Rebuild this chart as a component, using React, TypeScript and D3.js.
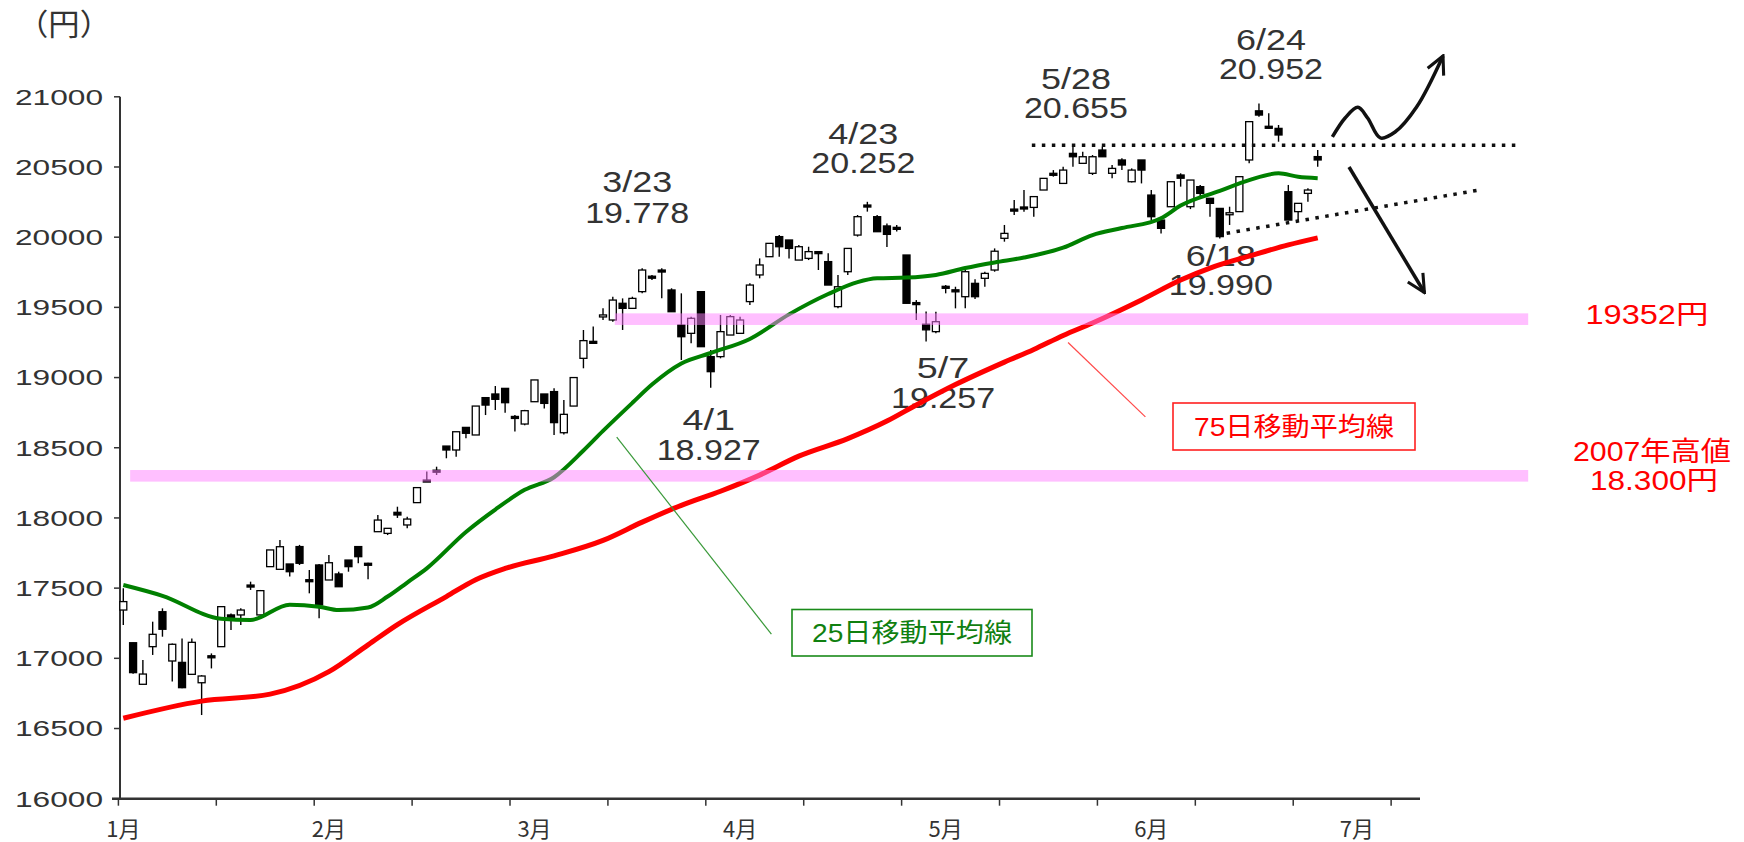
import React from "react";
import * as d3 from "d3";

// 日経平均 日足 (2015/1/5 - 7/2)
const dates = [
  "1/5","1/6","1/7","1/8","1/9","1/13","1/14","1/15","1/16","1/19","1/20","1/21","1/22","1/23","1/26","1/27","1/28","1/29","1/30",
  "2/2","2/3","2/4","2/5","2/6","2/9","2/10","2/12","2/13","2/16","2/17","2/18","2/19","2/20","2/23","2/24","2/25","2/26","2/27",
  "3/2","3/3","3/4","3/5","3/6","3/9","3/10","3/11","3/12","3/13","3/16","3/17","3/18","3/19","3/20","3/23","3/24","3/25","3/26","3/27","3/30","3/31",
  "4/1","4/2","4/3","4/6","4/7","4/8","4/9","4/10","4/13","4/14","4/15","4/16","4/17","4/20","4/21","4/22","4/23","4/24","4/27","4/28","4/30",
  "5/1","5/7","5/8","5/11","5/12","5/13","5/14","5/15","5/18","5/19","5/20","5/21","5/22","5/25","5/26","5/27","5/28","5/29",
  "6/1","6/2","6/3","6/4","6/5","6/8","6/9","6/10","6/11","6/12","6/15","6/16","6/17","6/18","6/19","6/22","6/23","6/24","6/25","6/26","6/29","6/30",
  "7/1","7/2",
];

const opens = [
  17344,17111,16815,17083,17332,16981,16971,16886,16826,17018,17083,17309,17309,17522,17309,17653,17634,17672,17796,
  17560,17665,17558,17601,17700,17796,17677,17902,17890,18040,17950,18109,18270,18340,18512,18484,18645,18591,18857,
  18883,18923,18723,18669,18828,18883,18900,18607,18797,19137,19258,19440,19410,19529,19493,19612,19722,19766,19624,19374,19315,19612,
  19149,19149,19303,19315,19541,19731,19861,20004,19980,19837,19849,19897,19826,19505,19754,20015,20229,20146,20080,20070,19873,
  19534,19380,19327,19650,19625,19576,19671,19707,19766,19992,20200,20215,20212,20336,20455,20383,20597,20526,
  20455,20621,20455,20550,20395,20550,20300,20122,20217,20443,20217,20360,20277,20205,20170,20182,20550,20900,20790,20775,20324,20182,
  20312,20574,
];
const highs = [
  17499,17111,16988,17261,17356,17105,17142,17142,16880,17035,17373,17320,17356,17546,17487,17772,17842,17672,17808,
  17629,17672,17736,17617,17700,17796,17680,18021,17926,18080,18009,18216,18330,18365,18512,18614,18645,18797,18857,
  18940,18923,18733,18770,18983,18883,18923,18840,19000,19339,19363,19493,19576,19564,19576,19778,19730,19778,19636,19600,19434,19612,
  19196,19446,19446,19434,19671,19849,19956,20015,19980,19944,19932,19897,19885,19731,19920,20158,20252,20158,20098,20087,19873,
  19552,19470,19469,19659,19647,19790,19700,19754,19920,20087,20265,20336,20289,20419,20478,20502,20655,20609,
  20585,20645,20514,20562,20490,20550,20336,20146,20395,20455,20407,20372,20277,20205,20217,20431,20823,20952,20882,20799,20372,20241,
  20348,20621,
];
const lows = [
  17237,16890,16815,17024,17154,16834,16786,16886,16596,16928,17080,17202,17237,17487,17305,17653,17634,17582,17665,
  17463,17285,17558,17510,17617,17677,17563,17902,17878,18000,17926,18109,18256,18306,18425,18436,18567,18591,18733,
  18769,18750,18615,18660,18828,18780,18590,18595,18797,19066,19244,19410,19398,19339,19493,19600,19695,19565,19469,19125,19244,19220,
  18927,19137,19303,19315,19517,19707,19861,19861,19849,19837,19837,19766,19659,19493,19730,20004,20182,20039,19930,20040,19529,
  19410,19257,19315,19600,19493,19493,19560,19647,19754,19968,20158,20182,20146,20336,20431,20383,20502,20526,
  20443,20573,20419,20478,20390,20383,20122,20027,20217,20360,20200,20289,20146,19990,20087,20182,20526,20858,20775,20680,20122,20122,
  20253,20502,
];
const closes = [
  17404,16898,16888,17171,17207,17100,16791,17114,16874,17015,17368,17292,17344,17518,17482,17772,17795,17617,17677,
  17558,17380,17681,17510,17653,17724,17675,17985,17926,18021,17992,18216,18256,18335,18484,18614,18603,18797,18804,
  18845,18821,18719,18764,18983,18816,18679,18738,19000,19263,19254,19446,19552,19493,19564,19766,19716,19760,19469,19291,19422,19220,
  19042,19327,19434,19410,19659,19802,19956,19932,19920,19932,19897,19890,19659,19647,19920,20146,20225,20039,20020,20058,19529,
  19532,19340,19398,19647,19623,19754,19576,19742,19900,20027,20196,20212,20289,20419,20452,20478,20573,20573,
  20573,20573,20490,20514,20478,20478,20146,20063,20395,20420,20407,20312,20241,20004,20174,20431,20823,20870,20787,20728,20122,20241,
  20336,20550,
];

// 移動平均線 [営業日番号, 値]
const ma25 = [
  [0,17522],[4,17445],[10,17282],[13,17273],[17,17382],[20,17368],[22,17344],[25,17362],[27,17440],[29,17540],[31,17641],
  [35,17900],[38,18060],[41,18200],[44,18290],[47,18480],[49,18620],[52,18820],[54,18950],[57,19100],[60,19175],[64,19275],
  [68,19450],[72,19595],[75,19680],[77,19707],[80,19712],[83,19731],[86,19780],[89,19820],[92,19855],[96,19925],[99,20015],
  [102,20065],[106,20135],[108,20225],[112,20330],[115,20407],[118,20455],[120,20430],[122,20420],
];
const ma75 = [
  [0,16573],[8,16695],[15,16745],[21,16905],[25,17096],[28,17240],[33,17440],[36,17560],[39,17640],[44,17730],[49,17840],
  [53,17970],[57,18090],[61,18190],[65,18305],[69,18440],[74,18565],[78,18690],[81,18805],[85,18950],[90,19110],[93,19200],
  [96,19300],[99,19389],[104,19553],[108,19695],[111,19780],[115,19865],[119,19945],[122,19995],
];

const yTicks = [16000, 16500, 17000, 17500, 18000, 18500, 19000, 19500, 20000, 20500, 21000];
const monthLabels = ["1月", "2月", "3月", "4月", "5月", "6月", "7月"];
const monthLabelEvery = 21;
const tickEvery = 10;
const tickCount = 14;

const noteDates = ["3/23", "4/23", "5/28", "6/24", "4/1", "5/7", "6/18"];
const noteValues = [19778, 20252, 20655, 20952, 18927, 19257, 19990];
const noteTexts = ["19.778", "20.252", "20.655", "20.952", "18.927", "19.257", "19.990"];

const levelValues = [19416, 18300];
const levelLabels = [["19352円"], ["2007年高値", "18.300円"]];

// layout
const W = 1744;
const H = 842;
const noteOffsets = [
  [-5, -87, -56], [-4, -68, -39], [3, -67, -38], [12, -63.5, -34.5],
  [-2, 31.5, 61.5], [17, 26.5, 56.5], [1, 17, 46],
];
const levelFrom = [50.2, 0.7];
const levelTo = 143.5;
const levelLabelPos = [[[1647, 314, 123]], [[1652, 451, 158], [1654, 480, 128]]];

const NUM_FONT = "'Liberation Sans', 'Noto Sans CJK JP', sans-serif";
const JP_FONT = "'Noto Sans CJK JP', 'Liberation Sans', sans-serif";

export default function App() {
  const x = d3.scaleLinear().domain([0, 122]).range([123.3, 1317.7]);
  const y = d3.scaleLinear().domain([16000, 21000]).range([798.7, 96.8]);
  const idx = (d: string) => dates.indexOf(d);

  const line = d3
    .line<number[]>()
    .x((d) => x(d[0]))
    .y((d) => y(d[1]))
    .curve(d3.curveMonotoneX);

  const xAxisY = y(16000);
  const bodyW = 7;

  const upArrow = [
    [123.5, 20714], [124.8, 20849], [126.1, 20925], [127.1, 20849], [128.4, 20707],
    [129.9, 20749], [132.1, 20927], [134.8, 21291],
  ];
  const downArrow = [[125.2, 20500], [132.9, 19606]];
  const arrowLine = d3
    .line<number[]>()
    .x((d) => x(d[0]))
    .y((d) => y(d[1]))
    .curve(d3.curveCatmullRom);

  return (
    <svg
      width={W}
      height={H}
      style={{ position: "absolute", left: 0, top: 0, display: "block", background: "#fff" }}
    >
      <defs>
        <marker id="arrowV" viewBox="0 0 10 10" refX="9" refY="5" markerWidth="22" markerHeight="22"
          markerUnits="userSpaceOnUse" orient="auto">
          <path d="M1,1 L9,5 L1,9" fill="none" stroke="#111" strokeWidth="1.4" />
        </marker>
      </defs>

      {/* unit */}
      <text x={64} y={24} dy="0.36em" textAnchor="middle" textLength={94} lengthAdjust="spacingAndGlyphs"
        fontFamily={JP_FONT} fontSize={30} fill="#333">
        （円）
      </text>

      {/* y axis */}
      <line x1={120} x2={120} y1={y(21000)} y2={xAxisY} stroke="#333" strokeWidth={2} />
      {yTicks.map((t) => (
        <g key={t}>
          <line x1={114} x2={120} y1={y(t)} y2={y(t)} stroke="#333" strokeWidth={1.5} />
          <text x={15} y={y(t)} dy="0.36em" textLength={88} lengthAdjust="spacingAndGlyphs"
            fontFamily={NUM_FONT} fontSize={22} fill="#333">
            {t}
          </text>
        </g>
      ))}

      {/* x axis */}
      <line x1={112} x2={1420} y1={xAxisY} y2={xAxisY} stroke="#333" strokeWidth={2.5} />
      {d3.range(tickCount).map((k) => (
        <line key={k} x1={x(k * tickEvery - 0.5)} x2={x(k * tickEvery - 0.5)} y1={xAxisY} y2={xAxisY + 7}
          stroke="#333" strokeWidth={1.5} />
      ))}
      {monthLabels.map((m, k) => (
        <text key={m} x={x(k * monthLabelEvery)} y={829} dy="0.36em" textAnchor="middle"
          fontFamily={JP_FONT} fontSize={22} fill="#333">
          {m}
        </text>
      ))}

      {/* annotations */}
      {noteDates.map((d, k) => {
        const [dx, dy1, dy2] = noteOffsets[k];
        const cx = x(idx(d)) + dx;
        const cy = y(noteValues[k]);
        return (
          <g key={d} fontFamily={NUM_FONT} fontSize={29} fill="#333" textAnchor="middle">
            <text x={cx} y={cy + dy1} dy="0.36em" textLength={d.length * 17.5} lengthAdjust="spacingAndGlyphs">
              {d}
            </text>
            <text x={cx} y={cy + dy2} dy="0.36em" textLength={104} lengthAdjust="spacingAndGlyphs">
              {noteTexts[k]}
            </text>
          </g>
        );
      })}

      {/* candles */}
      {dates.map((d, i) => {
        const o = opens[i], c = closes[i];
        const up = c >= o;
        const top = y(Math.max(o, c));
        const bh = Math.max(2, y(Math.min(o, c)) - top);
        const cx = x(i);
        return (
          <g key={d}>
            <line x1={cx} x2={cx} y1={y(highs[i])} y2={y(lows[i])} stroke="#000" strokeWidth={1.4} />
            <rect x={cx - bodyW / 2} y={top} width={bodyW} height={bh}
              fill={up ? "#fff" : "#000"} stroke="#000" strokeWidth={1.3} />
          </g>
        );
      })}

      {/* moving averages */}
      <path d={line(ma75) || ""} fill="none" stroke="#ff0000" strokeWidth={5} />
      <path d={line(ma25) || ""} fill="none" stroke="#008000" strokeWidth={4} />

      {/* level bands */}
      {levelValues.map((v, k) => (
        <rect key={v} x={x(levelFrom[k])} y={y(v) - 5.8} width={x(levelTo) - x(levelFrom[k])} height={11.6}
          fill="#ff80ff" opacity={0.5} />
      ))}
      {levelLabels.map((lines, k) =>
        lines.map((t, j) => {
          const [lx, ly, len] = levelLabelPos[k][j];
          return (
            <text key={t} x={lx} y={ly} dy="0.36em" textAnchor="middle" textLength={len}
              lengthAdjust="spacingAndGlyphs" fontFamily={NUM_FONT} fontSize={27} fill="#ff0000">
              {t}
            </text>
          );
        })
      )}

      {/* resistance / support dotted lines */}
      <line x1={x(92.8)} x2={x(142.2)} y1={y(20655)} y2={y(20655)} stroke="#111" strokeWidth={3.5}
        strokeDasharray="3.5 6.5" />
      <line x1={x(112.7)} x2={x(138.5)} y1={y(20028)} y2={y(20336)} stroke="#111" strokeWidth={3.5}
        strokeDasharray="3.5 6.5" />

      {/* arrows */}
      <path d={arrowLine(upArrow) || ""} fill="none" stroke="#111" strokeWidth={3.5} markerEnd="url(#arrowV)" />
      <path d={arrowLine(downArrow) || ""} fill="none" stroke="#111" strokeWidth={3.5} markerEnd="url(#arrowV)" />

      {/* callouts */}
      <line x1={x(96.5)} y1={y(19250)} x2={x(104.4)} y2={y(18720)} stroke="#ff4a4a" strokeWidth={1.2} />
      <rect x={1173} y={403} width={242} height={47} fill="#fff" stroke="#ff2020" strokeWidth={1.6} />
      <text x={1294} y={426.5} dy="0.36em" textAnchor="middle" textLength={200} lengthAdjust="spacingAndGlyphs"
        fontFamily={NUM_FONT} fontSize={26} fill="#ff0000">
        75日移動平均線
      </text>

      <line x1={x(50.4)} y1={y(18575)} x2={x(66.2)} y2={y(17172)} stroke="#3a9a3a" strokeWidth={1.2} />
      <rect x={792} y={609.5} width={240} height={46.5} fill="#fff" stroke="#1a8a1a" strokeWidth={1.6} />
      <text x={912} y={633} dy="0.36em" textAnchor="middle" textLength={200} lengthAdjust="spacingAndGlyphs"
        fontFamily={NUM_FONT} fontSize={26} fill="#108010">
        25日移動平均線
      </text>
    </svg>
  );
}
